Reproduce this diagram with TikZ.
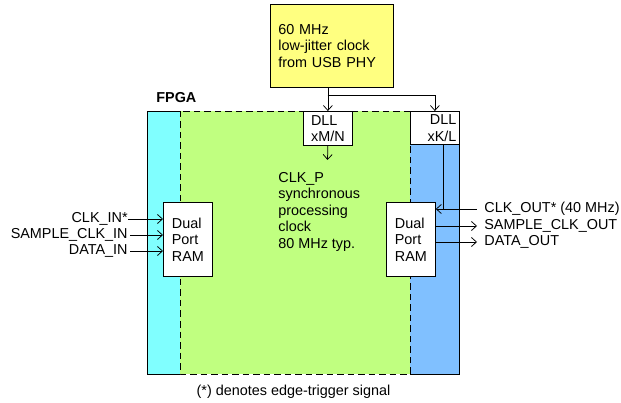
\documentclass[tikz,border=0pt]{standalone}
\usepackage{fontspec}
\setmainfont{Liberation Sans}
\usetikzlibrary{positioning,arrows.meta}
\definecolor{fpgacyan}{HTML}{80FFFF}
\definecolor{fpgagreen}{HTML}{C0FF80}
\definecolor{fpgablue}{HTML}{80C0FF}
\definecolor{phyyellow}{HTML}{FFFF80}
\begin{document}
\begin{tikzpicture}[x=1pt,y=-1pt,font=\fontsize{14.4}{16.5}\selectfont,line width=0.75pt,
  blk/.style={draw,fill=white,inner sep=0pt,anchor=north west},
  sig/.style={-{Straight Barb[length=5pt,width=9pt]}},
  lbl/.style={inner sep=0pt}]
\useasboundingbox (0,0) rectangle (621,403);
% FPGA regions
\fill[fpgacyan] (147,111) rectangle (180,374);
\fill[fpgagreen] (180,111) rectangle (410,374);
\fill[fpgablue] (410,144) rectangle (459,374);
\draw (180,111) -- (147,111) -- (147,374) -- (180,374);
\draw (410,111) -- (459,111) -- (459,374) -- (410,374);
\draw[dash pattern=on 6.5pt off 4pt] (180,111) rectangle (410,374);
\node[lbl,anchor=west,font=\fontsize{14.4}{16.5}\selectfont\bfseries] (fpga) at (156,98) {FPGA};
% clock source and DLLs
\node[blk,fill=phyyellow,minimum width=123pt,minimum height=83pt,align=left,text width=107pt,inner xsep=8pt] (phy) at (270,4) {60 MHz\\low-jitter clock\\from USB PHY};
\node[blk,minimum width=49pt,minimum height=34pt,align=left] (dllMN) at (303,111) {DLL\\xM/N};
\node[blk,minimum width=49pt,minimum height=33pt,align=right,text width=43pt,inner xsep=3pt] (dllKL) at (410,111) {DLL\\xK/L};
\coordinate (split) at (327.5,95);
\coordinate (clkP) at (327.5,160);
\coordinate (klOut) at (443,144);
\draw[sig] (dllMN.north |- phy.south) -- (dllMN.north);
\draw[sig] (split) -| (dllKL.north);
\draw[sig] (dllMN.south) -- (clkP);
\node[lbl,anchor=north west,align=left] (clkText) at (278,172) {CLK\_P\\synchronous\\processing\\clock\\80 MHz typ.};
% dual port RAMs
\node[blk,minimum width=49pt,minimum height=74pt,align=left] (ramIn) at (163,202) {Dual\\Port\\RAM};
\node[blk,minimum width=49pt,minimum height=74pt,align=left] (ramOut) at (386,202) {Dual\\Port\\RAM};
% inputs
\node[lbl,anchor=east] (clkIn) at (128,219) {CLK\_IN*};
\node[lbl,anchor=east] (smpIn) at (128,235) {SAMPLE\_CLK\_IN};
\node[lbl,anchor=east] (datIn) at (128,251) {DATA\_IN};
\draw[sig] (clkIn.east) -- (clkIn.east -| ramIn.west);
\draw[sig] (smpIn.east) ++(2,0) -- (smpIn.east -| ramIn.west);
\draw[sig] (datIn.east) ++(2,0) -- (datIn.east -| ramIn.west);
% outputs
\node[lbl,anchor=west] (clkOut) at (484,209) {CLK\_OUT* (40 MHz)};
\node[lbl,anchor=west] (smpOut) at (484,226) {SAMPLE\_CLK\_OUT};
\node[lbl,anchor=west] (datOut) at (484,242) {DATA\_OUT};
\draw[sig,{Straight Barb[length=5pt,width=9pt]}-] (clkOut.west -| ramOut.east) -- ([xshift=-7pt]clkOut.west);
\draw (klOut) -- (klOut |- clkOut.west);
\draw[sig] (smpOut.west -| ramOut.east) -- ([xshift=-7pt]smpOut.west);
\draw[sig] (datOut.west -| ramOut.east) -- ([xshift=-7pt]datOut.west);
% note
\node[lbl] (note) at (293.5,392) {(*) denotes edge-trigger signal};
\end{tikzpicture}
\end{document}
